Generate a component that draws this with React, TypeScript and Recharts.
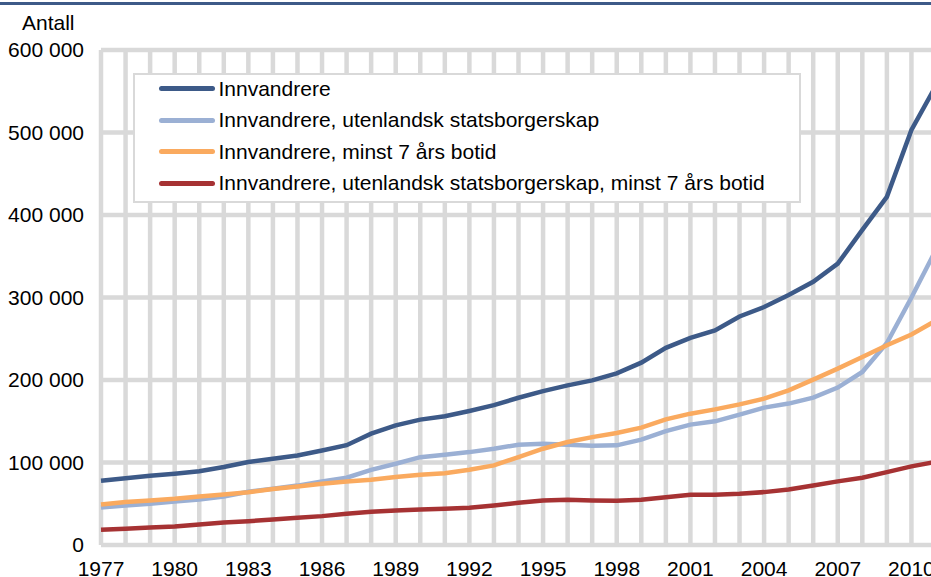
import React from 'react';
import { LineChart, Line, XAxis, YAxis, CartesianGrid } from 'recharts';

const years = [
  1977, 1978, 1979, 1980, 1981, 1982, 1983, 1984, 1985, 1986, 1987, 1988,
  1989, 1990, 1991, 1992, 1993, 1994, 1995, 1996, 1997, 1998, 1999, 2000,
  2001, 2002, 2003, 2004, 2005, 2006, 2007, 2008, 2009, 2010, 2011,
];

const innvandrere = [
  78000, 81000, 84000, 86500, 89500, 94500, 100500, 104500, 108500, 114500, 121000, 135000,
  145000, 152000, 156000, 162500, 169500, 178500, 186500, 193500, 199500, 208000, 221000, 239000,
  251000, 260000, 277000, 288500, 303000, 319000, 341000, 382000, 422000, 503000, 557000,
];

const utenlandsk = [
  45500, 48000, 50000, 52800, 55200, 58900, 64500, 68200, 72000, 77000, 81500, 91000,
  98500, 106500, 109500, 112600, 116700, 121600, 122800, 121600, 120400, 120800, 127700, 138100,
  145900, 149900, 158000, 166500, 171400, 178600, 190800, 209700, 244900, 300000, 358000,
];

const botid7 = [
  49000, 52000, 54000, 56000, 58800, 61300, 64000, 67800, 71000, 74300, 77000, 79000,
  82300, 85200, 87100, 91300, 96500, 106600, 116700, 124800, 130800, 135700, 142200, 152300,
  159200, 164400, 170500, 177400, 187500, 200500, 213800, 227900, 242100, 255100, 272000,
];

const utenlandskBotid7 = [
  18400, 19700, 21200, 22500, 24900, 27300, 28900, 30900, 33000, 35000, 37900, 40300,
  41900, 43100, 43900, 45100, 47900, 51200, 54000, 54900, 54000, 53600, 54900, 58000,
  60900, 60900, 62100, 64100, 67400, 72200, 77100, 81600, 88400, 95300, 100800,
];

const yTicks = [0, 100000, 200000, 300000, 400000, 500000, 600000];
const xLabelYears = [1977, 1980, 1983, 1986, 1989, 1992, 1995, 1998, 2001, 2004, 2007, 2010];

const seriesKeys = ['innvandrere', 'utenlandsk', 'botid7', 'utenlandskBotid7'];
const seriesNames = [
  'Innvandrere',
  'Innvandrere, utenlandsk statsborgerskap',
  'Innvandrere, minst 7 års botid',
  'Innvandrere, utenlandsk statsborgerskap, minst 7 års botid',
];
const seriesColors = ['#3d5a88', '#9bb0d4', '#faaa5f', '#a63233'];

const data = years.map((year, i) => ({
  year,
  innvandrere: innvandrere[i],
  utenlandsk: utenlandsk[i],
  botid7: botid7[i],
  utenlandskBotid7: utenlandskBotid7[i],
}));

const FONT = '"Liberation Sans", Arial, sans-serif';
const FS = 21;

const fmt = (v: number) => String(v).replace(/\B(?=(\d{3})+(?!\d))/g, ' ');

export default function App() {
  return (
    <div
      style={{
        position: 'absolute',
        left: 0,
        top: 0,
        width: 931,
        height: 577,
        overflow: 'hidden',
        background: '#fff',
        fontFamily: FONT,
      }}
    >
      <div style={{ position: 'absolute', left: 0, top: 2, width: 931, height: 3, background: '#3d5a88' }} />
      <div style={{ position: 'absolute', left: 22, top: 11, fontSize: FS, lineHeight: 'normal', color: '#000', whiteSpace: 'nowrap' }}>
        Antall
      </div>
      <div style={{ position: 'absolute', left: 0, top: 0 }}>
        <LineChart
          width={960}
          height={577}
          data={data}
          margin={{ top: 50, right: 24, bottom: 0, left: 0 }}
        >
          <CartesianGrid stroke="#d9d9d9" strokeWidth={4.5} />
          <XAxis
            dataKey="year"
            type="number"
            domain={[1977, 2011]}
            ticks={years}
            interval={0}
            tickFormatter={(y: number) => (xLabelYears.includes(y) ? String(y) : '')}
            tickLine={false}
            axisLine={false}
            tickSize={0}
            tickMargin={16}
            height={32}
            tick={{ fontSize: FS, fill: '#000', fontFamily: FONT }}
          />
          <YAxis
            domain={[0, 600000]}
            ticks={yTicks}
            tickFormatter={fmt}
            tickLine={false}
            axisLine={false}
            tickSize={0}
            tickMargin={17}
            width={101}
            tick={{ fontSize: FS, fill: '#000', fontFamily: FONT }}
          />
          {seriesKeys.map((k, i) => (
            <Line
              key={k}
              type="linear"
              dataKey={k}
              name={seriesNames[i]}
              stroke={seriesColors[i]}
              strokeWidth={4.5}
              dot={false}
              isAnimationActive={false}
            />
          ))}
        </LineChart>
      </div>
      <div
        style={{
          position: 'absolute',
          left: 133,
          top: 73,
          width: 668,
          height: 130,
          boxSizing: 'border-box',
          border: '2.5px solid #d9d9d9',
          background: '#fff',
        }}
      >
        {seriesNames.map((name, i) => (
          <div
            key={name}
            style={{
              position: 'absolute',
              left: 0,
              top: 16 + i * 31.5 - 12 - 2.5,
              height: 24,
              display: 'flex',
              alignItems: 'center',
              whiteSpace: 'nowrap',
            }}
          >
            <div
              style={{
                marginLeft: 159 - 133 - 2.5,
                width: 56,
                height: 5,
                borderRadius: 3,
                background: seriesColors[i],
              }}
            />
            <span style={{ marginLeft: 4, fontSize: FS, color: '#000', lineHeight: '24px' }}>{name}</span>
          </div>
        ))}
      </div>
    </div>
  );
}
